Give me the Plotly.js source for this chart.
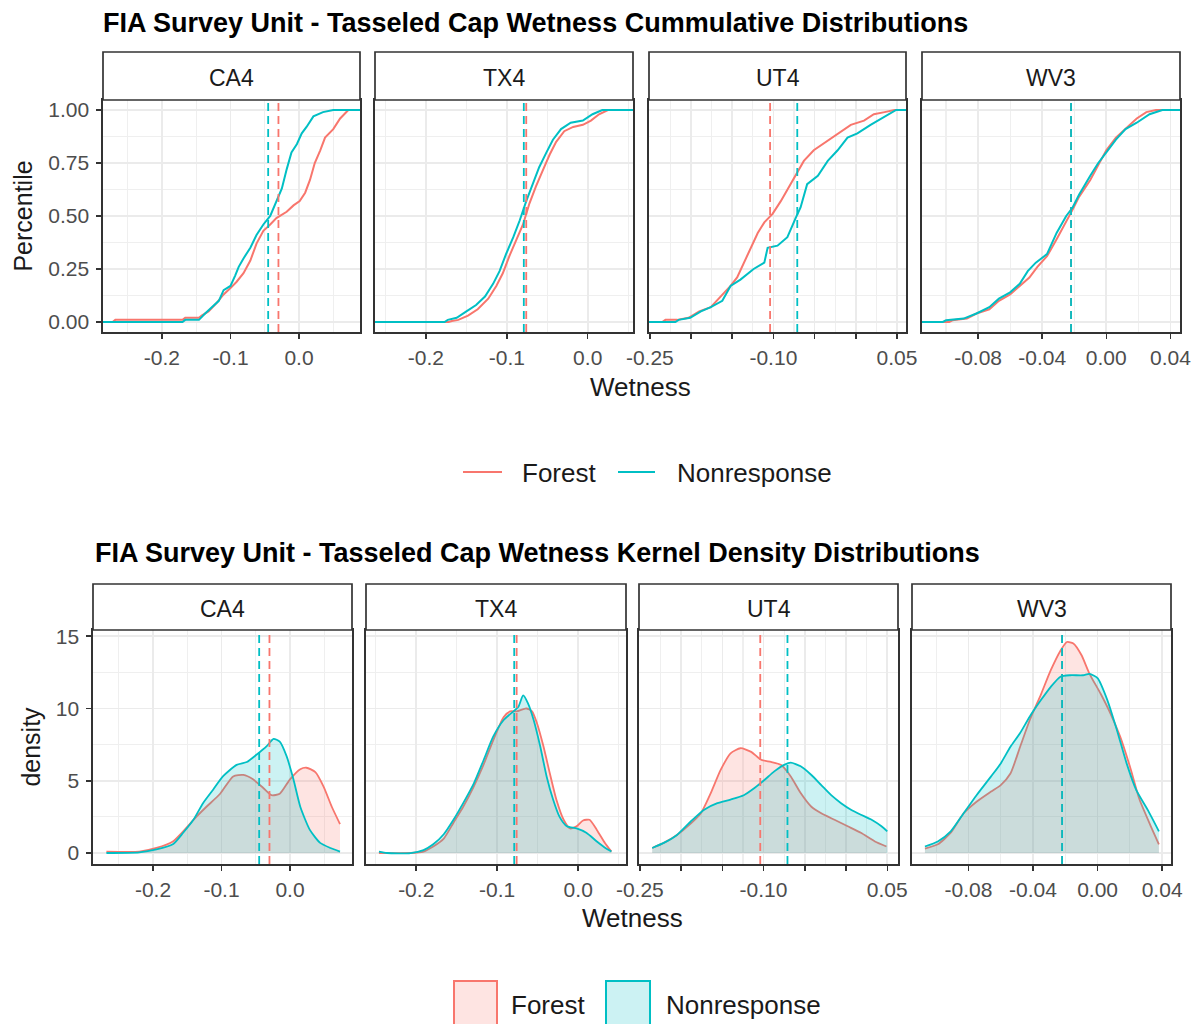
<!DOCTYPE html>
<html><head><meta charset="utf-8">
<script src="https://cdn.plot.ly/plotly-3.0.1.min.js"></script>
<style>html,body{margin:0;padding:0;background:#fff}#chart{width:1201px;height:1024px}</style>
</head><body><div id="chart"></div>
<script>
// ---------------- DATA ----------------
const units = ['CA4', 'TX4', 'UT4', 'WV3'];
const groups = ['Forest', 'Nonresponse'];
const cumTitle = 'FIA Survey Unit - Tasseled Cap Wetness Cummulative Distributions';
const densTitle = 'FIA Survey Unit - Tasseled Cap Wetness Kernel Density Distributions';

// Empirical cumulative distributions (Wetness, Percentile)
const cdfForestCA4X = [-0.286, -0.272, -0.268, -0.170, -0.166, -0.146, -0.142, -0.132, -0.120, -0.110, -0.100, -0.091, -0.081, -0.071, -0.062, -0.052, -0.042, -0.033, -0.018, -0.008, 0.001, 0.009, 0.016, 0.023, 0.031, 0.038, 0.050, 0.060, 0.072, 0.089];
const cdfForestCA4Y = [0, 0, 0.01, 0.01, 0.02, 0.02, 0.03, 0.05, 0.09, 0.13, 0.16, 0.19, 0.23, 0.29, 0.37, 0.43, 0.46, 0.49, 0.52, 0.55, 0.57, 0.61, 0.67, 0.75, 0.81, 0.87, 0.91, 0.96, 1.00, 1.00];
const cdfNonrespCA4X = [-0.286, -0.170, -0.166, -0.146, -0.137, -0.127, -0.117, -0.110, -0.100, -0.093, -0.088, -0.081, -0.071, -0.062, -0.052, -0.042, -0.033, -0.025, -0.018, -0.011, -0.003, 0.004, 0.011, 0.021, 0.035, 0.050, 0.089];
const cdfNonrespCA4Y = [0, 0, 0.01, 0.01, 0.04, 0.07, 0.10, 0.15, 0.17, 0.22, 0.26, 0.30, 0.35, 0.41, 0.46, 0.50, 0.57, 0.63, 0.72, 0.80, 0.84, 0.89, 0.92, 0.97, 0.99, 1.00, 1.00];

const cdfForestTX4X = [-0.263, -0.172, -0.168, -0.160, -0.148, -0.136, -0.123, -0.113, -0.105, -0.097, -0.088, -0.080, -0.072, -0.064, -0.055, -0.047, -0.039, -0.029, -0.018, -0.006, 0.004, 0.014, 0.025, 0.056];
const cdfForestTX4Y = [0, 0, 0.005, 0.01, 0.03, 0.06, 0.11, 0.17, 0.23, 0.31, 0.39, 0.46, 0.56, 0.64, 0.72, 0.79, 0.85, 0.90, 0.92, 0.93, 0.95, 0.98, 1.00, 1.00];
const cdfNonrespTX4X = [-0.263, -0.177, -0.173, -0.162, -0.150, -0.138, -0.127, -0.117, -0.109, -0.101, -0.092, -0.084, -0.076, -0.068, -0.060, -0.051, -0.043, -0.033, -0.021, -0.006, 0.006, 0.018, 0.056];
const cdfNonrespTX4Y = [0, 0, 0.01, 0.02, 0.05, 0.08, 0.12, 0.18, 0.24, 0.32, 0.40, 0.48, 0.57, 0.65, 0.73, 0.80, 0.86, 0.91, 0.94, 0.95, 0.98, 1.00, 1.00];

const cdfForestUT4X = [-0.251, -0.235, -0.231, -0.217, -0.203, -0.190, -0.176, -0.164, -0.152, -0.144, -0.136, -0.128, -0.119, -0.111, -0.101, -0.091, -0.081, -0.071, -0.063, -0.051, -0.036, -0.022, -0.006, 0.010, 0.022, 0.035, 0.047, 0.061];
const cdfForestUT4Y = [0, 0, 0.01, 0.01, 0.02, 0.05, 0.07, 0.12, 0.17, 0.21, 0.28, 0.35, 0.42, 0.47, 0.51, 0.57, 0.64, 0.71, 0.76, 0.81, 0.85, 0.89, 0.93, 0.95, 0.98, 0.99, 1.00, 1.00];
const cdfNonrespUT4X = [-0.251, -0.219, -0.215, -0.201, -0.188, -0.176, -0.162, -0.152, -0.140, -0.124, -0.111, -0.107, -0.095, -0.083, -0.073, -0.067, -0.059, -0.046, -0.034, -0.022, -0.010, 0.002, 0.018, 0.031, 0.039, 0.049, 0.061];
const cdfNonrespUT4Y = [0, 0, 0.01, 0.02, 0.05, 0.07, 0.10, 0.17, 0.20, 0.25, 0.28, 0.35, 0.36, 0.40, 0.49, 0.54, 0.65, 0.69, 0.76, 0.81, 0.87, 0.89, 0.93, 0.96, 0.98, 1.00, 1.00];

const cdfForestWV3X = [-0.115, -0.098, -0.096, -0.087, -0.081, -0.073, -0.067, -0.060, -0.054, -0.048, -0.043, -0.037, -0.031, -0.025, -0.021, -0.017, -0.010, -0.005, 0.000, 0.006, 0.012, 0.019, 0.025, 0.031, 0.046];
const cdfForestWV3Y = [0, 0, 0.008, 0.016, 0.04, 0.06, 0.10, 0.13, 0.17, 0.21, 0.26, 0.31, 0.39, 0.47, 0.53, 0.59, 0.67, 0.74, 0.81, 0.87, 0.91, 0.96, 0.99, 1.00, 1.00];
const cdfNonrespWV3X = [-0.115, -0.102, -0.100, -0.089, -0.081, -0.073, -0.067, -0.060, -0.054, -0.049, -0.044, -0.037, -0.031, -0.025, -0.021, -0.017, -0.010, -0.005, 0.000, 0.006, 0.012, 0.019, 0.027, 0.035, 0.046];
const cdfNonrespWV3Y = [0, 0, 0.008, 0.016, 0.04, 0.07, 0.11, 0.14, 0.18, 0.24, 0.28, 0.32, 0.42, 0.50, 0.54, 0.60, 0.69, 0.75, 0.80, 0.86, 0.91, 0.94, 0.98, 1.00, 1.00];

// Kernel densities (Wetness, density)
const densForestCA4X = [-0.268, -0.220, -0.195, -0.171, -0.156, -0.141, -0.122, -0.102, -0.083, -0.068, -0.054, -0.039, -0.027, -0.015, 0.000, 0.015, 0.024, 0.037, 0.049, 0.061, 0.073];
const densForestCA4Y = [0.1, 0.1, 0.35, 0.8, 1.5, 2.3, 3.2, 4.1, 5.3, 5.4, 5.1, 4.5, 4.0, 4.1, 5.1, 5.8, 5.9, 5.6, 4.6, 3.2, 2.0];
const densNonrespCA4X = [-0.268, -0.220, -0.195, -0.171, -0.156, -0.141, -0.127, -0.112, -0.098, -0.078, -0.063, -0.049, -0.034, -0.024, -0.015, -0.005, 0.005, 0.015, 0.029, 0.044, 0.059, 0.073];
const densNonrespCA4Y = [0.0, 0.05, 0.25, 0.6, 1.4, 2.3, 3.45, 4.4, 5.3, 6.1, 6.3, 6.8, 7.4, 7.9, 7.7, 6.7, 5.1, 3.2, 1.6, 0.7, 0.35, 0.1];

const densForestTX4X = [-0.246, -0.207, -0.191, -0.179, -0.166, -0.154, -0.142, -0.129, -0.117, -0.105, -0.092, -0.084, -0.076, -0.064, -0.057, -0.051, -0.043, -0.035, -0.027, -0.018, -0.010, -0.002, 0.006, 0.014, 0.023, 0.033, 0.041];
const densForestTX4Y = [0.0, 0.0, 0.1, 0.45, 1.0, 2.1, 3.2, 4.6, 6.1, 7.8, 9.4, 9.8, 9.8, 10.0, 9.8, 9.0, 7.4, 5.5, 3.7, 2.3, 1.7, 1.85, 2.25, 2.3, 1.6, 0.7, 0.1];
const densNonrespTX4X = [-0.246, -0.236, -0.207, -0.191, -0.179, -0.166, -0.154, -0.142, -0.129, -0.117, -0.105, -0.092, -0.080, -0.074, -0.068, -0.062, -0.055, -0.047, -0.039, -0.031, -0.023, -0.014, -0.002, 0.010, 0.023, 0.035, 0.041];
const densNonrespTX4Y = [0.1, 0.0, 0.0, 0.2, 0.6, 1.3, 2.3, 3.45, 4.8, 6.4, 8.05, 9.2, 9.8, 10.1, 10.9, 10.35, 9.2, 7.4, 5.3, 3.7, 2.5, 1.85, 1.7, 1.4, 0.8, 0.3, 0.1];

const densForestUT4X = [-0.235, -0.221, -0.205, -0.188, -0.176, -0.164, -0.152, -0.140, -0.128, -0.115, -0.103, -0.091, -0.079, -0.067, -0.055, -0.042, -0.030, -0.014, 0.002, 0.018, 0.035, 0.049];
const densForestUT4Y = [0.35, 0.7, 1.25, 2.05, 2.75, 4.15, 5.75, 6.9, 7.25, 7.0, 6.45, 6.3, 6.1, 5.3, 4.15, 3.2, 2.75, 2.3, 1.85, 1.4, 0.8, 0.45];
const densNonrespUT4X = [-0.235, -0.221, -0.205, -0.188, -0.172, -0.156, -0.140, -0.124, -0.111, -0.099, -0.087, -0.075, -0.067, -0.055, -0.042, -0.030, -0.018, -0.006, 0.006, 0.018, 0.031, 0.043, 0.050];
const densNonrespUT4Y = [0.35, 0.7, 1.25, 2.2, 3.0, 3.45, 3.7, 4.0, 4.5, 5.05, 5.65, 6.1, 6.25, 6.0, 5.4, 4.7, 4.0, 3.45, 3.0, 2.65, 2.3, 1.85, 1.5];

const densForestWV3X = [-0.107, -0.099, -0.091, -0.083, -0.075, -0.066, -0.060, -0.054, -0.048, -0.042, -0.035, -0.029, -0.023, -0.019, -0.015, -0.010, -0.005, 0.002, 0.008, 0.014, 0.020, 0.026, 0.033, 0.038];
const densForestWV3Y = [0.3, 0.6, 1.4, 2.75, 3.55, 4.25, 4.7, 5.5, 7.35, 9.2, 11.0, 12.65, 14.0, 14.6, 14.5, 13.7, 12.4, 11.0, 9.65, 8.05, 6.0, 3.7, 1.85, 0.6];
const densNonrespWV3X = [-0.107, -0.099, -0.091, -0.083, -0.075, -0.066, -0.060, -0.054, -0.048, -0.042, -0.035, -0.029, -0.023, -0.017, -0.009, -0.005, 0.000, 0.006, 0.012, 0.018, 0.024, 0.031, 0.038];
const densNonrespWV3Y = [0.45, 0.8, 1.5, 2.75, 4.0, 5.3, 6.2, 7.35, 8.3, 9.45, 10.6, 11.5, 12.2, 12.3, 12.3, 12.4, 12.1, 10.6, 8.5, 6.2, 4.35, 3.0, 1.5];

// Group means (dashed reference lines), per unit
const meanForest = [-0.030, -0.076, -0.104, -0.022];
const meanNonresp = [-0.045, -0.079, -0.071, -0.022];

// Tick labels
const xTickVals = [[-0.2, -0.1, 0.0], [-0.2, -0.1, 0.0], [-0.25, -0.2, -0.15, -0.1, -0.05, 0, 0.05], [-0.08, -0.04, 0, 0.04]];
const xTickText = [['-0.2', '-0.1', '0.0'], ['-0.2', '-0.1', '0.0'], ['-0.25', '', '', '-0.10', '', '', '0.05'], ['-0.08', '-0.04', '0.00', '0.04']];
const xMinorVals = [[-0.25, -0.15, -0.05, 0.05], [-0.25, -0.15, -0.05, 0.05], [-0.225, -0.175, -0.125, -0.075, -0.025, 0.025], [-0.10, -0.06, -0.02, 0.02]];
const cumTickVals = [0, 0.25, 0.5, 0.75, 1];
const cumTickText = ['0.00', '0.25', '0.50', '0.75', '1.00'];
const cumMinorVals = [0.125, 0.375, 0.625, 0.875];
const densTickVals = [0, 5, 10, 15];
const densTickText = ['0', '5', '10', '15'];
const densMinorVals = [2.5, 7.5, 12.5];

// ---------------- BUILD ----------------
const cdfX = [[cdfForestCA4X, cdfNonrespCA4X], [cdfForestTX4X, cdfNonrespTX4X], [cdfForestUT4X, cdfNonrespUT4X], [cdfForestWV3X, cdfNonrespWV3X]];
const cdfY = [[cdfForestCA4Y, cdfNonrespCA4Y], [cdfForestTX4Y, cdfNonrespTX4Y], [cdfForestUT4Y, cdfNonrespUT4Y], [cdfForestWV3Y, cdfNonrespWV3Y]];
const densX = [[densForestCA4X, densNonrespCA4X], [densForestTX4X, densNonrespTX4X], [densForestUT4X, densNonrespUT4X], [densForestWV3X, densNonrespWV3X]];
const densY = [[densForestCA4Y, densNonrespCA4Y], [densForestTX4Y, densNonrespTX4Y], [densForestUT4Y, densNonrespUT4Y], [densForestWV3Y, densNonrespWV3Y]];
const means = [meanForest, meanNonresp];

const W = 1201, H = 1024;
const COLORS = ['#F8766D', '#00BFC4'];
const FILLS = ['rgba(248,118,109,0.2)', 'rgba(0,191,196,0.2)'];
const FONT = 'Liberation Sans, Arial, sans-serif';
const topCols = [[103, 360], [375, 633], [649, 906], [922, 1180]];
const botCols = [[93, 352], [366, 626], [639, 898], [912, 1171]];
const topRow = [100, 332], topStrip = [52, 100];
const botRow = [630, 864], botStrip = [584, 630];
const topXRange = [[-0.286, 0.089], [-0.263, 0.056], [-0.251, 0.061], [-0.115, 0.046]];
const botXRange = [[-0.2876, 0.0905], [-0.262, 0.059], [-0.251, 0.063], [-0.115, 0.0455]];

const px = v => v / W;
const py = v => 1 - v / H;

const traces = [];
const layout = {
  width: W, height: H,
  margin: {l: 0, r: 0, t: 0, b: 0},
  paper_bgcolor: '#ffffff', plot_bgcolor: '#ffffff',
  font: {family: FONT, color: '#000'},
  showlegend: false,
  shapes: [], annotations: []
};

function baseAxis() {
  return {
    showgrid: true, gridcolor: '#EBEBEB', gridwidth: 1.6, zeroline: false,
    showline: true, mirror: true, linecolor: '#333333', linewidth: 1.7,
    ticks: 'outside', ticklen: 5, tickwidth: 1.5, tickcolor: '#333333',
    tickfont: {size: 21, color: '#4D4D4D', family: FONT},
    tickmode: 'array', fixedrange: true, ticklabelstandoff: 1
  };
}

function addPanel(n, cols, row, xr, yr, i, isTop) {
  const xa = Object.assign(baseAxis(), {
    domain: [px(cols[0]), px(cols[1])], range: xr, anchor: 'y' + n,
    tickvals: xTickVals[i], ticktext: xTickText[i],
    minor: {tickmode: 'array', tickvals: xMinorVals[i], showgrid: true, gridcolor: '#EFEFEF', gridwidth: 1.2, ticks: ''}
  });
  const ya = Object.assign(baseAxis(), {
    domain: [py(row[1]), py(row[0])], range: yr, anchor: 'x' + n,
    tickvals: isTop ? cumTickVals : densTickVals,
    ticktext: isTop ? cumTickText : densTickText,
    minor: {tickmode: 'array', tickvals: isTop ? cumMinorVals : densMinorVals, showgrid: true, gridcolor: '#EFEFEF', gridwidth: 1.2, ticks: ''},
    showticklabels: i === 0, ticks: i === 0 ? 'outside' : '', ticklabelstandoff: 3
  });
  if (i === 0) {
    ya.title = {text: isTop ? 'Percentile' : 'density', font: {size: 25, color: '#1A1A1A', family: FONT}, standoff: 8};
  }
  const s = n === 1 ? '' : String(n);
  layout['xaxis' + s] = xa;
  layout['yaxis' + s] = ya;
}

for (let i = 0; i < 4; i++) {
  // top: cumulative
  const nT = i + 1;
  addPanel(nT, topCols[i], topRow, topXRange[i], [-0.0472, 1.0472], i, true);
  for (let g = 0; g < 2; g++) {
    traces.push({
      type: 'scatter', mode: 'lines', name: groups[g], showlegend: false,
      x: cdfX[i][g], y: cdfY[i][g],
      xaxis: 'x' + (nT === 1 ? '' : nT), yaxis: 'y' + (nT === 1 ? '' : nT),
      line: {color: COLORS[g], width: 2, shape: 'linear'}, hoverinfo: 'skip'
    });
  }
  // bottom: density
  const nB = i + 5;
  addPanel(nB, botCols[i], botRow, botXRange[i], [-0.76, 15.43], i, false);
  for (let g = 0; g < 2; g++) {
    traces.push({
      type: 'scatter', mode: 'lines', name: groups[g], showlegend: false,
      x: densX[i][g], y: densY[i][g], fill: 'tozeroy', fillcolor: FILLS[g],
      xaxis: 'x' + nB, yaxis: 'y' + nB,
      line: {color: COLORS[g], width: 1.8, shape: 'spline', smoothing: 0.6}, hoverinfo: 'skip'
    });
  }
  // dashed mean lines
  [nT, nB].forEach(n => {
    const xs = n === 1 ? 'x' : 'x' + n, ys = n === 1 ? 'y' : 'y' + n;
    for (let g = 0; g < 2; g++) {
      layout.shapes.push({
        type: 'line', xref: xs, yref: ys + ' domain', x0: means[g][i], x1: means[g][i], y0: 0, y1: 1,
        line: {color: COLORS[g], width: 1.8, dash: '8px,5px'}, layer: 'above'
      });
    }
  });
  // strips
  [[topCols[i], topStrip], [botCols[i], botStrip]].forEach(([c, s]) => {
    layout.shapes.push({
      type: 'rect', xref: 'paper', yref: 'paper', x0: px(c[0]), x1: px(c[1]), y0: py(s[1]), y1: py(s[0]),
      fillcolor: '#ffffff', line: {color: '#333333', width: 1.7}, layer: 'above'
    });
    layout.annotations.push({
      xref: 'paper', yref: 'paper', x: px((c[0] + c[1]) / 2), y: py((s[0] + s[1]) / 2 + 1.5),
      xanchor: 'center', yanchor: 'middle', showarrow: false, text: units[i],
      font: {size: 23, color: '#1A1A1A', family: FONT}
    });
  });
}

// titles
layout.annotations.push({
  xref: 'paper', yref: 'paper', x: px(101), y: py(23), xanchor: 'left', yanchor: 'middle', showarrow: false,
  text: cumTitle, font: {size: 27, color: '#000', family: FONT, weight: 'bold'}
});
layout.annotations.push({
  xref: 'paper', yref: 'paper', x: px(93), y: py(553), xanchor: 'left', yanchor: 'middle', showarrow: false,
  text: densTitle, font: {size: 27, color: '#000', family: FONT, weight: 'bold'}
});
// shared x titles
layout.annotations.push({
  xref: 'paper', yref: 'paper', x: px(640), y: py(387), xanchor: 'center', yanchor: 'middle', showarrow: false,
  text: 'Wetness', font: {size: 26, color: '#1A1A1A', family: FONT}
});
layout.annotations.push({
  xref: 'paper', yref: 'paper', x: px(632), y: py(918), xanchor: 'center', yanchor: 'middle', showarrow: false,
  text: 'Wetness', font: {size: 26, color: '#1A1A1A', family: FONT}
});

// top (line) legend keys
const lineKeys = [[463, 502], [618, 655]];
const lineKeyText = [520, 675];
for (let g = 0; g < 2; g++) {
  layout.shapes.push({
    type: 'line', xref: 'paper', yref: 'paper', x0: px(lineKeys[g][0]), x1: px(lineKeys[g][1]), y0: py(472), y1: py(472),
    line: {color: COLORS[g], width: 2}
  });
  layout.annotations.push({
    xref: 'paper', yref: 'paper', x: px(lineKeyText[g]), y: py(473), xanchor: 'left', yanchor: 'middle', showarrow: false,
    text: groups[g], font: {size: 26, color: '#1A1A1A', family: FONT}
  });
}

// bottom (fill) legend keys
const keyBoxes = [[454, 497], [606, 650]];
const keyText = [509, 664];
for (let g = 0; g < 2; g++) {
  layout.shapes.push({
    type: 'rect', xref: 'paper', yref: 'paper', x0: px(keyBoxes[g][0]), x1: px(keyBoxes[g][1]), y0: py(1027), y1: py(981),
    fillcolor: FILLS[g], line: {color: COLORS[g], width: 2}, layer: 'above'
  });
  layout.annotations.push({
    xref: 'paper', yref: 'paper', x: px(keyText[g]), y: py(1005), xanchor: 'left', yanchor: 'middle', showarrow: false,
    text: groups[g], font: {size: 26, color: '#1A1A1A', family: FONT}
  });
}

Plotly.newPlot('chart', traces, layout, {staticPlot: true, displayModeBar: false});
</script>
</body></html>
